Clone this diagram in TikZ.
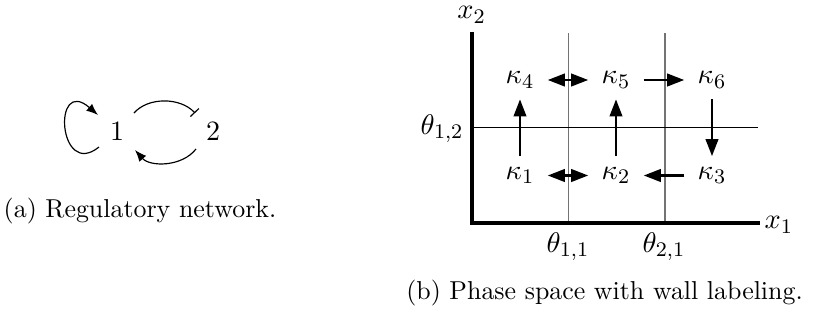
\documentclass[tikz,border=0pt]{standalone}
\usetikzlibrary{arrows.meta}
\begin{document}
\begin{tikzpicture}[x=0.386pt,y=-0.386pt,
  lbl/.style={inner sep=0pt,font=\fontsize{10.8}{13}\selectfont},
  capt/.style={inner sep=0pt},
  kap/.style={inner sep=0pt,minimum width=21pt,minimum height=14.5pt,font=\fontsize{10.8}{13}\selectfont},
  flow/.style={line width=1pt,-{Triangle[length=6.6pt,width=4.8pt]}},
  flowboth/.style={line width=1pt,{Triangle[length=6.6pt,width=4.8pt]}-{Triangle[length=6.6pt,width=4.8pt]}},
  net/.style={line width=0.45pt},
  axis/.style={line width=1.5pt},
  wall/.style={line width=0.5pt,draw=black!55},
  thr/.style={line width=0.45pt}]
\useasboundingbox (0,0) rectangle (815,320);
% ---------- (a) regulatory network
\node[lbl] (n1) at (117,131) {1};
\node[lbl] (n2) at (213,131) {2};
\draw[net,-{Latex[length=4.5pt,width=3.5pt]}] ([shift={(-18,16)}]n1.center) .. controls ([shift={(-59,49)}]n1.center) and ([shift={(-65,-56)}]n1.center) .. ([shift={(-19,-16)}]n1.center);
\draw[net,-{Bar[width=4.5pt]}] ([shift={(17,-18)}]n1.center) .. controls ([shift={(31,-34)}]n1.center) and ([shift={(-33,-34)}]n2.center) .. ([shift={(-18,-18)}]n2.center);
\draw[net,-{Latex[length=4.5pt,width=3.5pt]}] ([shift={(-17,18)}]n2.center) .. controls ([shift={(-31,36)}]n2.center) and ([shift={(33,36)}]n1.center) .. ([shift={(18,19)}]n1.center);
\node[capt] (capa) at (140,211) {(a) Regulatory network.};
% ---------- (b) phase space
\coordinate (o) at (472,223);
\coordinate (ytop) at (472,31.7);
\coordinate (xend) at (760,223);
\coordinate (w1t) at (568.3,33);
\coordinate (w1b) at (568.3,223);
\coordinate (w2t) at (665,33);
\coordinate (w2b) at (665,223);
\coordinate (hl) at (472,127.3);
\coordinate (hr) at (758,127.3);
\draw[wall] (w1t) -- (w1b);
\draw[wall] (w2t) -- (w2b);
\draw[thr] (hl) -- (hr);
\draw[axis] (ytop) -- (o) -- (xend);
\node[lbl] (x2) at (471.7,15) {$x_2$};
\node[lbl] (x1) at (779,225) {$x_1$};
\node[lbl,anchor=east] (t12) at (464,128.5) {$\theta_{1,2}$};
\node[lbl] (t11) at (568,246.5) {$\theta_{1,1}$};
\node[lbl] (t21) at (664,246.5) {$\theta_{2,1}$};
\node[kap] (k4) at (520,80) {$\kappa_4$};
\node[kap] (k5) at (616,80) {$\kappa_5$};
\node[kap] (k6) at (712,80) {$\kappa_6$};
\node[kap] (k1) at (520,175.5) {$\kappa_1$};
\node[kap] (k2) at (616,175.5) {$\kappa_2$};
\node[kap] (k3) at (712,175.5) {$\kappa_3$};
\draw[flowboth] (k4) -- (k5);
\draw[flow] (k5) -- (k6);
\draw[flowboth] (k1) -- (k2);
\draw[flow] (k3) -- (k2);
\draw[flow] (k1) -- (k4);
\draw[flow] (k2) -- (k5);
\draw[flow] (k6) -- (k3);
\node[capt] (capb) at (604.5,293) {(b) Phase space with wall labeling.};
\end{tikzpicture}
\end{document}
